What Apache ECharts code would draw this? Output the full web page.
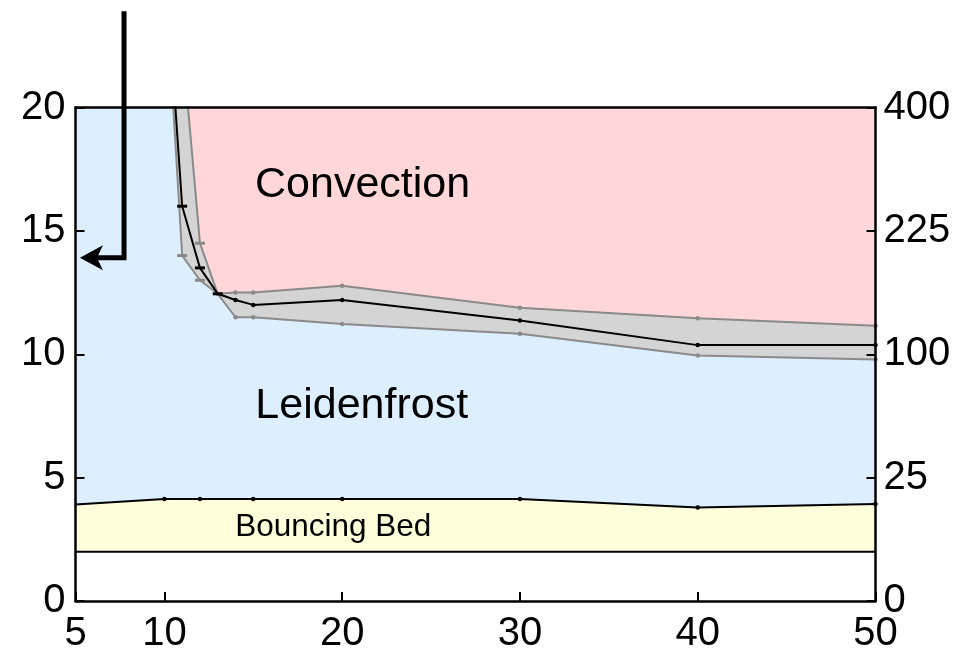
<!DOCTYPE html>
<html>
<head>
<meta charset="utf-8">
<title>Regime map</title>
<script src="https://cdn.jsdelivr.net/npm/echarts@6/dist/echarts.min.js"></script>
<style>
  html, body { margin: 0; padding: 0; background: #fff; }
  #chart { width: 974px; height: 654px; }
</style>
</head>
<body>
<div id="chart"></div>
<script>
// Axis ticks
const xTicks = [5, 10, 20, 30, 40, 50];
const yTicks = [0, 5, 10, 15, 20];
const rightTickLabels = ['0', '25', '100', '225', '400'];

// Convection / Leidenfrost boundary: best estimate and its uncertainty band
const boundaryMid   = [[10, 26.5], [11, 16.0], [12, 13.5], [13, 12.45], [14, 12.2], [15, 12.0], [20, 12.2], [30, 11.37], [40, 10.37], [50, 10.37]];
const boundaryUpper = [[11, 22.7], [12, 14.5], [13, 12.45], [14, 12.5], [15, 12.5], [20, 12.78], [30, 11.88], [40, 11.46], [50, 11.16]];
const boundaryLower = [[10, 26.0], [11, 14.0], [12, 13.0], [13, 12.45], [14, 11.5], [15, 11.5], [20, 11.23], [30, 10.83], [40, 9.95], [50, 9.79]];

// Bouncing bed regime: upper edge and floor
const bouncingTop    = [[5, 3.91], [10, 4.13], [12, 4.13], [15, 4.13], [20, 4.13], [30, 4.13], [40, 3.79], [50, 3.93]];
const bouncingBottom = [[5, 2], [50, 2]];

// Region names and their anchor points
const regionNames  = ['Convection', 'Leidenfrost', 'Bouncing Bed'];
const regionAnchor = [[21.15, 16.85], [21.1, 7.9], [19.5, 2.98]];

// Pointer arrow: stem top, corner, tip
const arrowPath = [[7.73, 23.9], [7.73, 13.91], [5.25, 13.91]];

const FONT = '"Liberation Sans", Arial, Helvetica, sans-serif';
const C_BLUE = '#ddeeff', C_PINK = '#ffd7d9', C_YELLOW = '#ffffdc', C_BAND = '#d4d4d4', C_GREY = '#8a8a8a';

// Marker styling: short caps at the steep part of the curve, dots elsewhere
function withMarks(points, capXs, hideXs) {
  return points.map(p => {
    if (hideXs && hideXs.indexOf(p[0]) >= 0) return { value: p, symbol: 'none' };
    if (capXs.indexOf(p[0]) >= 0) return { value: p, symbol: 'rect', symbolSize: [10, 3] };
    return { value: p, symbol: 'circle', symbolSize: 4.5 };
  });
}

function fill(data, origin, color) {
  return {
    type: 'line', data: data, silent: true, showSymbol: false, symbol: 'none',
    lineStyle: { width: 0 }, areaStyle: { origin: origin, color: color, opacity: 1 },
    z: 1, animation: false
  };
}

function curve(data, color, width, z) {
  return {
    type: 'line', data: data, silent: true, showSymbol: true,
    lineStyle: { color: color, width: width }, itemStyle: { color: color },
    z: z, animation: false
  };
}

// Region name centred on its anchor point
function renderRegionName(params, api) {
  const i = params.dataIndex;
  const p = api.coord(regionAnchor[i]);
  return {
    type: 'text',
    x: p[0], y: p[1],
    style: {
      text: regionNames[i],
      fill: '#000',
      font: (i === 2 ? 31.5 : 43) + 'px ' + FONT,
      align: 'center',
      verticalAlign: 'middle'
    }
  };
}

// Thick polyline ending in a notched arrowhead at the last point
function renderArrow(params, api) {
  const pts = arrowPath.map(p => api.coord(p));
  const tip = pts[pts.length - 1];
  const prev = pts[pts.length - 2];
  const len = 23, half = 12.5, notch = 17;
  const dx = prev[0] - tip[0], dy = prev[1] - tip[1];
  const d = Math.sqrt(dx * dx + dy * dy) || 1;
  const ux = dx / d, uy = dy / d, nx = -uy, ny = ux;
  const stemPts = pts.slice(0, -1).concat([[tip[0] + ux * notch, tip[1] + uy * notch]]);
  const head = [
    tip,
    [tip[0] + ux * len + nx * half, tip[1] + uy * len + ny * half],
    [tip[0] + ux * notch, tip[1] + uy * notch],
    [tip[0] + ux * len - nx * half, tip[1] + uy * len - ny * half]
  ];
  return {
    type: 'group',
    children: [
      { type: 'polyline', shape: { points: stemPts },
        style: { stroke: '#000', lineWidth: 5, fill: null, lineJoin: 'miter', lineCap: 'butt' } },
      { type: 'polygon', shape: { points: head }, style: { fill: '#000', stroke: null } }
    ]
  };
}

const chart = echarts.init(document.getElementById('chart'), null, { renderer: 'canvas' });

chart.setOption({
  animation: false,
  backgroundColor: '#fff',
  grid: { left: 75.5, right: 98.5, top: 107.5, bottom: 51, containLabel: false },
  xAxis: [{
    type: 'value', min: 5, max: 50, position: 'bottom', z: 10,
    axisLine: { show: true, lineStyle: { color: '#000', width: 2.5 } },
    axisTick: { show: true, inside: true, length: 9, customValues: xTicks, lineStyle: { color: '#000', width: 2 } },
    axisLabel: { customValues: xTicks, color: '#000', fontSize: 40, fontFamily: FONT, margin: 13 },
    splitLine: { show: false }
  }, {
    type: 'value', min: 5, max: 50, position: 'top', z: 10,
    axisLine: { show: true, onZero: false, lineStyle: { color: '#000', width: 2.5 } },
    axisTick: { show: false }, axisLabel: { show: false }, splitLine: { show: false }
  }],
  yAxis: [{
    type: 'value', min: 0, max: 20, interval: 5, position: 'left', z: 10,
    axisLine: { show: true, onZero: false, lineStyle: { color: '#000', width: 2.5 } },
    axisTick: { show: true, inside: true, length: 9, lineStyle: { color: '#000', width: 2 } },
    axisLabel: { color: '#000', fontSize: 40, fontFamily: FONT, margin: 10 },
    splitLine: { show: false }
  }, {
    type: 'value', min: 0, max: 20, interval: 5, position: 'right', z: 10,
    axisLine: { show: true, onZero: false, lineStyle: { color: '#000', width: 2.5 } },
    axisTick: { show: true, inside: true, length: 9, lineStyle: { color: '#000', width: 2 } },
    axisLabel: {
      color: '#000', fontSize: 40, fontFamily: FONT, margin: 8,
      formatter: v => rightTickLabels[yTicks.indexOf(v)]
    },
    splitLine: { show: false }
  }],
  series: [
    // Region fills, bottom to top
    fill(bouncingTop, 'end', C_BLUE),
    fill(bouncingTop, 'start', C_YELLOW),
    fill(bouncingBottom, 'start', '#ffffff'),
    fill(boundaryLower, 'end', C_BAND),
    fill(boundaryUpper, 'end', C_PINK),

    // Boundary curves
    curve(bouncingBottom.map(p => ({ value: p, symbol: 'none' })), '#000', 2, 3),
    curve(withMarks(bouncingTop, [], [5]), '#000', 2, 3),
    curve(withMarks(boundaryLower, [11, 12], []), C_GREY, 2, 3),
    curve(withMarks(boundaryUpper, [12], []), C_GREY, 2, 3),
    curve(withMarks(boundaryMid, [11, 12, 13], []), '#000', 2, 4),

    // Region names
    {
      type: 'custom', coordinateSystem: 'cartesian2d', silent: true, z: 6, animation: false,
      data: regionNames.map((n, i) => i),
      renderItem: renderRegionName
    },

    // Pointer arrow
    {
      type: 'custom', coordinateSystem: 'cartesian2d', clip: false, silent: true, z: 8, animation: false,
      data: [0],
      renderItem: renderArrow
    }
  ]
});
</script>
</body>
</html>
